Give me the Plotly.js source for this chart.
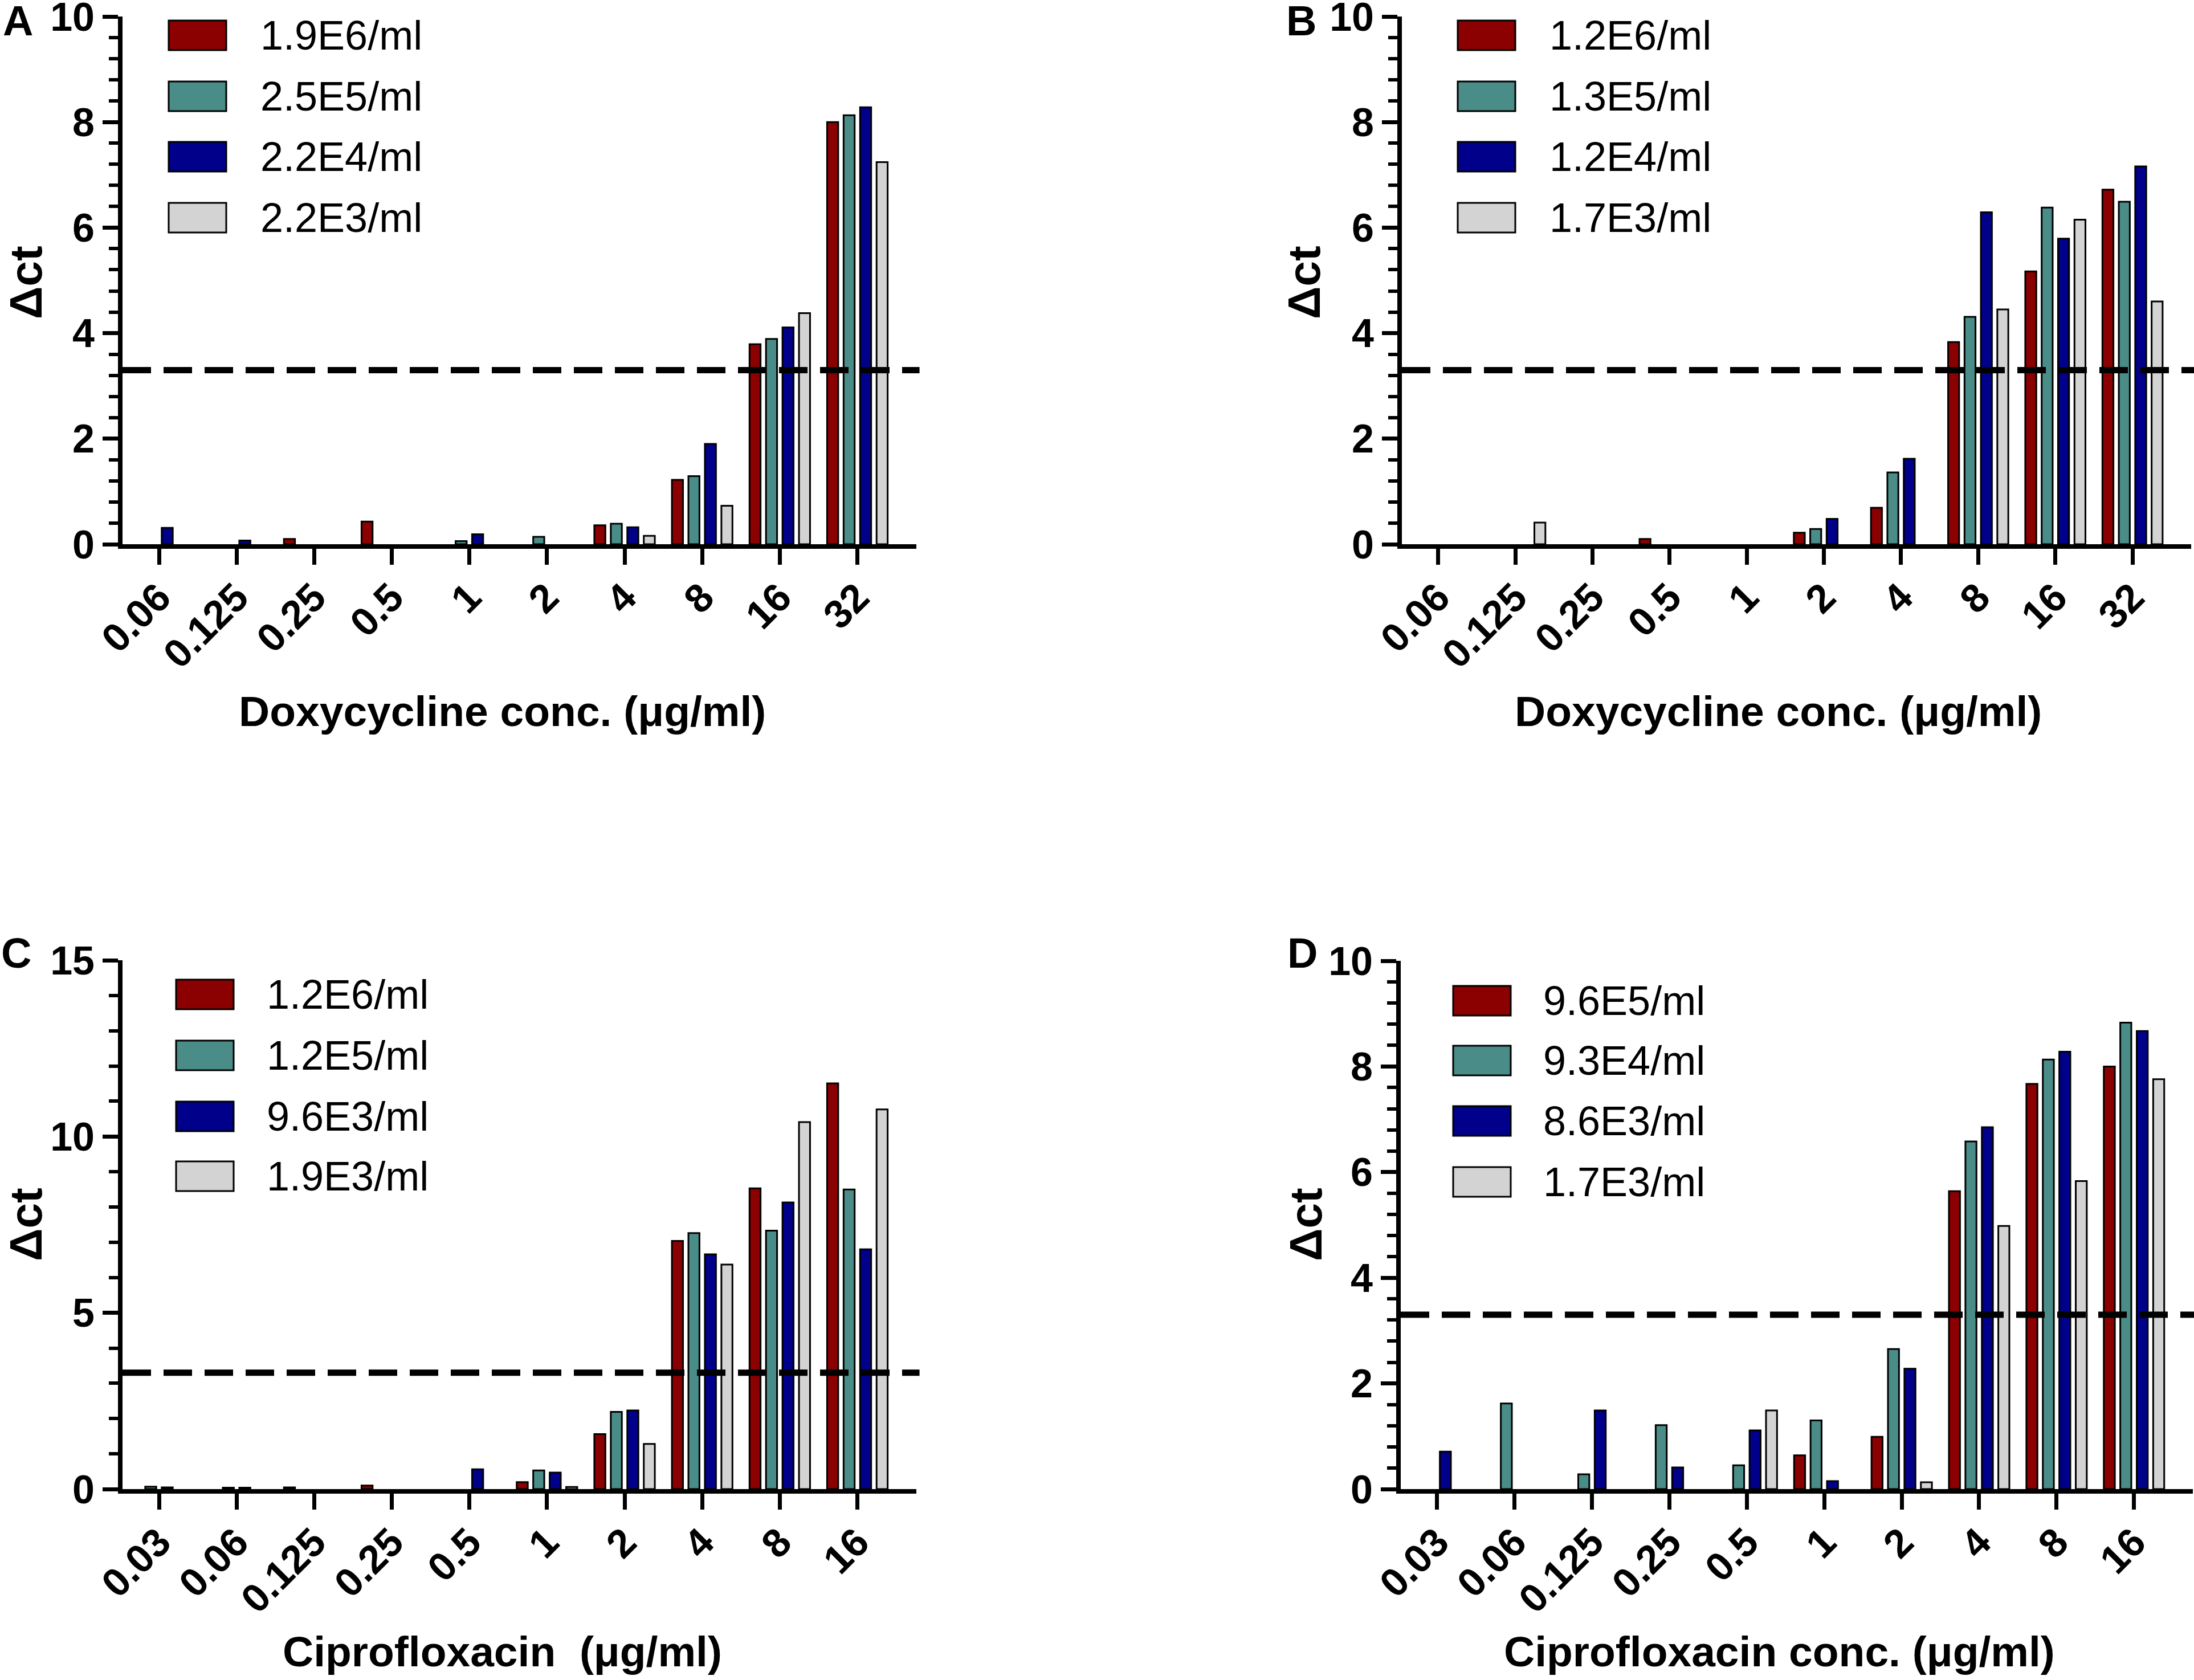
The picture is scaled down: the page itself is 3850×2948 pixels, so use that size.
<!DOCTYPE html>
<html>
<head>
<meta charset="utf-8">
<script src="https://cdn.plot.ly/plotly-3.0.1.min.js"></script>
<style>
  body { margin: 0; background: #fff; }
  #myDiv { width: 3850px; height: 2948px; }
</style>
</head>
<body>
<div id="myDiv"></div>
<script>
// categories (concentrations)
const doxyConc = ["0.06", "0.125", "0.25", "0.5", "1", "2", "4", "8", "16", "32"];
const ciproConc = ["0.03", "0.06", "0.125", "0.25", "0.5", "1", "2", "4", "8", "16"];

// panel A - Doxycycline
const aNames = ["1.9E6/ml", "2.5E5/ml", "2.2E4/ml", "2.2E3/ml"];
const aRed = [0, 0, 0.1, 0.43, 0, 0, 0.36, 1.22, 3.79, 8.0];
const aTeal = [0, 0, 0, 0, 0.06, 0.14, 0.39, 1.29, 3.89, 8.13];
const aBlue = [0.31, 0.07, 0, 0, 0.19, 0, 0.32, 1.9, 4.11, 8.28];
const aGray = [0, 0, 0, 0, 0, 0, 0.16, 0.73, 4.38, 7.24];

// panel B - Doxycycline
const bNames = ["1.2E6/ml", "1.3E5/ml", "1.2E4/ml", "1.7E3/ml"];
const bRed = [0, 0, 0, 0.1, 0, 0.22, 0.69, 3.83, 5.17, 6.72];
const bTeal = [0, 0, 0, 0, 0, 0.29, 1.36, 4.31, 6.38, 6.49];
const bBlue = [0, 0, 0, 0, 0, 0.48, 1.62, 6.29, 5.79, 7.16];
const bGray = [0, 0.41, 0, 0, 0, 0, 0, 4.45, 6.15, 4.6];

// panel C - Ciprofloxacin
const cNames = ["1.2E6/ml", "1.2E5/ml", "9.6E3/ml", "1.9E3/ml"];
const cRed = [0, 0, 0.05, 0.1, 0, 0.2, 1.56, 7.04, 8.53, 11.51];
const cTeal = [0.07, 0.04, 0, 0, 0, 0.53, 2.19, 7.26, 7.33, 8.5];
const cBlue = [0.05, 0.04, 0, 0, 0.56, 0.47, 2.23, 6.66, 8.13, 6.8];
const cGray = [0, 0, 0, 0, 0, 0.06, 1.28, 6.37, 10.41, 10.77];

// panel D - Ciprofloxacin
const dNames = ["9.6E5/ml", "9.3E4/ml", "8.6E3/ml", "1.7E3/ml"];
const dRed = [0, 0, 0, 0, 0, 0.64, 0.99, 5.64, 7.67, 8.0];
const dTeal = [0, 1.62, 0.28, 1.21, 0.45, 1.3, 2.65, 6.58, 8.13, 8.83];
const dBlue = [0.71, 0, 1.49, 0.41, 1.11, 0.15, 2.28, 6.85, 8.28, 8.67];
const dGray = [0, 0, 0, 0, 1.49, 0, 0.13, 4.98, 5.83, 7.76];

const cutoff = 3.3; // dashed threshold line

const colors = ["#8b0000", "#4a8c88", "#00008b", "#d3d3d3"];
const W = 3850, H = 2948;
const FONT = "Liberation Sans, Arial, sans-serif";

const panels = [
  { ax: "", cats: doxyConc, series: [aRed, aTeal, aBlue, aGray], names: aNames,
    xpx: [215, 1608], ypx: [955, 29], ymax: 10, major: 2, minor: 0.4,
    letter: "A", letterPos: [31, 36],
    xtitle: "Doxycycline conc. (μg/ml)", xtitlePos: [881, 1248], ytitlePos: [45, 496],
    legX: 296, legText: 455, legRows: [62, 169, 275, 382] },
  { ax: "2", cats: doxyConc, series: [bRed, bTeal, bBlue, bGray], names: bNames,
    xpx: [2460, 3845], ypx: [955, 29], ymax: 10, major: 2, minor: 0.4,
    letter: "B", letterPos: [2283, 36],
    xtitle: "Doxycycline conc. (μg/ml)", xtitlePos: [3120, 1248], ytitlePos: [2288, 496],
    legX: 2558, legText: 2717, legRows: [62, 169, 275, 382] },
  { ax: "3", cats: ciproConc, series: [cRed, cTeal, cBlue, cGray], names: cNames,
    xpx: [215, 1608], ypx: [2613, 1685], ymax: 15, major: 5, minor: 1,
    letter: "C", letterPos: [28, 1672],
    xtitle: "Ciprofloxacin\u00a0 (μg/ml)", xtitlePos: [881, 2898], ytitlePos: [45, 2149],
    legX: 309, legText: 466, legRows: [1745, 1852, 1959, 2064] },
  { ax: "4", cats: ciproConc, series: [dRed, dTeal, dBlue, dGray], names: dNames,
    xpx: [2458, 3848], ypx: [2613, 1686], ymax: 10, major: 2, minor: 0.4,
    letter: "D", letterPos: [2285, 1672],
    xtitle: "Ciprofloxacin conc. (μg/ml)", xtitlePos: [3122, 2898], ytitlePos: [2291, 2149],
    legX: 2550, legText: 2706, legRows: [1756, 1861, 1967, 2074] }
];

const px = x => x / W;
const py = y => 1 - y / H;

const data = [];
const layout = {
  width: W,
  height: H,
  margin: { l: 0, r: 0, t: 0, b: 0 },
  paper_bgcolor: "#fff",
  plot_bgcolor: "rgba(0,0,0,0)",
  barmode: "group",
  bargap: 0.15,
  bargroupgap: 0.33,
  showlegend: false,
  font: { family: FONT, color: "#000" },
  shapes: [],
  annotations: []
};

panels.forEach(p => {
  const xa = "x" + p.ax, ya = "y" + p.ax;

  p.series.forEach((vals, i) => {
    data.push({
      type: "bar",
      x: p.cats,
      y: vals,
      name: p.names[i],
      xaxis: xa,
      yaxis: ya,
      // no outline on empty bars so nothing shows along the axis
      marker: { color: colors[i], line: { color: "#000", width: vals.map(v => v > 0 ? 3 : 0) } }
    });
  });

  layout["xaxis" + p.ax] = {
    domain: [px(p.xpx[0]), px(p.xpx[1])],
    anchor: ya,
    type: "category",
    range: [-0.47, 9.76],
    showgrid: false,
    zeroline: false,
    showline: true,
    linewidth: 8,
    linecolor: "#000",
    ticks: "outside",
    ticklen: 28,
    tickwidth: 7,
    tickcolor: "#000",
    tickangle: -45,
    ticklabelstandoff: -12,
    ticklabeloverflow: "allow",
    tickfont: { family: FONT, size: 70, weight: "bold", color: "#000" }
  };
  layout["yaxis" + p.ax] = {
    domain: [py(p.ypx[0]), py(p.ypx[1])],
    anchor: xa,
    range: [0, p.ymax],
    dtick: p.major,
    showgrid: false,
    zeroline: false,
    showline: true,
    linewidth: 8,
    linecolor: "#000",
    ticks: "outside",
    ticklen: 27,
    tickwidth: 7,
    tickcolor: "#000",
    ticklabeloverflow: "allow",
    minor: { dtick: p.minor, ticks: "outside", ticklen: 16, tickwidth: 6, tickcolor: "#000", showgrid: false },
    tickfont: { family: FONT, size: 70, weight: "bold", color: "#000" }
  };

  // dashed cutoff
  layout.shapes.push({
    type: "line", xref: xa + " domain", yref: ya,
    x0: 0, x1: 1.004, y0: cutoff, y1: cutoff,
    line: { color: "#000", width: 11, dash: "50px,22px" },
    layer: "above"
  });

  // legend boxes + labels
  p.names.forEach((nm, i) => {
    const r = p.legRows[i];
    layout.shapes.push({
      type: "rect", xref: "paper", yref: "paper",
      x0: px(p.legX), x1: px(p.legX + 101), y0: py(r + 26), y1: py(r - 26),
      fillcolor: colors[i], line: { color: "#000", width: 3 }
    });
    layout.annotations.push({
      xref: "paper", yref: "paper", x: px(p.legText), y: py(r),
      xanchor: "left", yanchor: "middle", showarrow: false, text: nm,
      font: { family: FONT, size: 72, color: "#000" }
    });
  });

  // panel letter, axis titles
  layout.annotations.push({
    xref: "paper", yref: "paper", x: px(p.letterPos[0]), y: py(p.letterPos[1]),
    xanchor: "center", yanchor: "middle", showarrow: false, text: p.letter,
    font: { family: FONT, size: 74, weight: "bold", color: "#000" }
  });
  layout.annotations.push({
    xref: "paper", yref: "paper", x: px(p.xtitlePos[0]), y: py(p.xtitlePos[1]),
    xanchor: "center", yanchor: "middle", showarrow: false, text: p.xtitle,
    font: { family: FONT, size: 75, weight: "bold", color: "#000" }
  });
  layout.annotations.push({
    xref: "paper", yref: "paper", x: px(p.ytitlePos[0]), y: py(p.ytitlePos[1]),
    xanchor: "center", yanchor: "middle", showarrow: false, text: "Δct", textangle: -90,
    font: { family: FONT, size: 80, weight: "bold", color: "#000" }
  });
});

Plotly.newPlot("myDiv", data, layout, { displayModeBar: false, staticPlot: true });
</script>
</body>
</html>
